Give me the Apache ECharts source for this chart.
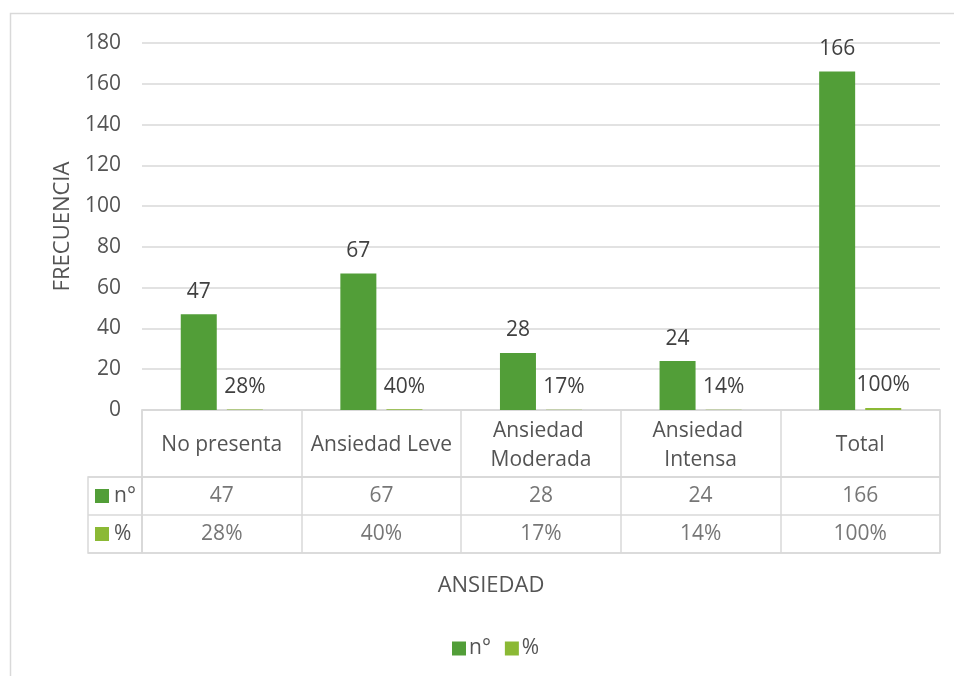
<!DOCTYPE html>
<html><head><meta charset="utf-8">
<script src="https://cdn.jsdelivr.net/npm/echarts@6/dist/echarts.min.js"></script>
<style>html,body{margin:0;padding:0;background:#fff}#c{width:954px;height:676px}</style>
</head><body><div id="c"></div>
<script>
const categories = ['No presenta', 'Ansiedad Leve', 'Ansiedad Moderada', 'Ansiedad Intensa', 'Total'];
const seriesNames = ['n°', '%'];
const countValues = [47, 67, 28, 24, 166];
const pctValues = [0.28, 0.40, 0.17, 0.14, 1.00];
const yTicks = { min: 0, max: 180, interval: 20 };
const colors = ['#529e38', '#8bb935'];

const FONT = 'Open Sans';
const FS = 21;
const TFS = 22;
const TXT = '#545454';
const LBL = '#404040';
const LINE = '#d9d9d9';
const pctFmt = v => Math.round(v * 100) + '%';

const chart = echarts.init(document.getElementById('c'), null, { renderer: 'canvas' });

const cellData = [];
categories.forEach((c, i) => {
  cellData.push({ value: [i, 0], text: String(countValues[i]) });
  cellData.push({ value: [i, 1], text: pctFmt(pctValues[i]) });
});

chart.setOption({
  animation: false,
  textStyle: { fontFamily: FONT },
  color: colors,
  graphic: [{
    type: 'rect', silent: true, z: -10,
    shape: { x: 10.5, y: 13.5, width: 1000, height: 700 },
    style: { fill: null, stroke: LINE, lineWidth: 1.5 }
  }],
  legend: {
    data: seriesNames, left: 447, top: 633, itemWidth: 14, itemHeight: 14, itemGap: 14,
    icon: 'rect', selectedMode: false,
    textStyle: { fontFamily: FONT, fontSize: FS, color: TXT, padding: [0, 0, 0, -2] }
  },
  grid: [
    { left: 142, right: 14, top: 43, bottom: 266, show: false },
    { left: 142, right: 14, top: 410, height: 67, show: true, borderColor: LINE, borderWidth: 1.5 },
    { left: 142, right: 14, top: 477, height: 76, show: true, borderColor: LINE, borderWidth: 1.5 },
    { left: 88, width: 54, top: 477, height: 76, show: true, borderColor: LINE, borderWidth: 1.5 }
  ],
  xAxis: [
    {
      type: 'category', gridIndex: 0, data: categories,
      axisLine: { show: true, lineStyle: { color: LINE, width: 1.5 } },
      axisTick: { show: false }, axisLabel: { show: false },
      name: 'ANSIEDAD', nameLocation: 'middle', nameGap: 165,
      nameTextStyle: { fontFamily: FONT, fontSize: TFS, color: TXT, padding: [0, 100, 0, 0] }
    },
    {
      type: 'category', gridIndex: 1, data: categories,
      axisLine: { show: false }, axisTick: { show: false },
      splitLine: { show: true, lineStyle: { color: LINE, width: 1.5 } },
      axisLabel: {
        inside: true, margin: 31.5, verticalAlign: 'middle', interval: 0,
        fontFamily: FONT, fontSize: FS, color: TXT, lineHeight: 29,
        width: 150, overflow: 'break', align: 'center'
      }
    },
    {
      type: 'category', gridIndex: 2, data: categories,
      axisLine: { show: false }, axisTick: { show: false }, axisLabel: { show: false },
      splitLine: { show: true, lineStyle: { color: LINE, width: 1.5 } }
    },
    {
      type: 'value', gridIndex: 3, min: 0, max: 1, show: false
    }
  ],
  yAxis: [
    {
      type: 'value', gridIndex: 0, min: yTicks.min, max: yTicks.max, interval: yTicks.interval,
      axisLine: { show: false }, axisTick: { show: false },
      splitLine: { lineStyle: { color: LINE, width: 1.5 } },
      axisLabel: { fontFamily: FONT, fontSize: FS, color: TXT, margin: 21 },
      name: 'FRECUENCIA', nameLocation: 'middle', nameGap: 68, nameRotate: 90,
      nameTextStyle: { fontFamily: FONT, fontSize: TFS, color: TXT }
    },
    { type: 'value', gridIndex: 1, min: 0, max: 1, show: false },
    {
      type: 'category', gridIndex: 2, data: seriesNames, inverse: true,
      axisLine: { show: false }, axisTick: { show: false }, axisLabel: { show: false },
      splitLine: { show: true, lineStyle: { color: LINE, width: 1.5 } }
    },
    {
      type: 'category', gridIndex: 3, data: seriesNames, inverse: true,
      axisLine: { show: false }, axisTick: { show: false },
      splitLine: { show: true, lineStyle: { color: LINE, width: 1.5 } },
      axisLabel: {
        inside: true, margin: 7, align: 'left',
        formatter: (v, i) => '{k' + i + '|}{t|' + v + '}',
        rich: {
          k0: { width: 14, height: 14, backgroundColor: colors[0] },
          k1: { width: 14, height: 14, backgroundColor: colors[1] },
          t: { fontFamily: FONT, fontSize: FS, color: TXT, padding: [0, 0, 0, 5] }
        }
      }
    }
  ],
  series: [
    {
      name: seriesNames[0], type: 'bar', xAxisIndex: 0, yAxisIndex: 0,
      data: countValues, barWidth: 36, barGap: '28%',
      label: { show: true, position: 'top', distance: 12, fontFamily: FONT, fontSize: FS, color: LBL }
    },
    {
      name: seriesNames[1], type: 'bar', xAxisIndex: 0, yAxisIndex: 0,
      data: pctValues, barWidth: 36, barGap: '28%',
      label: { show: true, position: 'top', distance: 12, fontFamily: FONT, fontSize: FS, color: LBL, formatter: p => pctFmt(p.value) }
    },
    {
      type: 'scatter', xAxisIndex: 2, yAxisIndex: 2, data: cellData,
      symbol: 'rect', symbolSize: 1, itemStyle: { color: 'rgba(0,0,0,0)' }, silent: true,
      label: { show: true, position: 'inside', fontFamily: FONT, fontSize: FS, color: TXT, formatter: p => p.data.text }
    }
  ]
});
</script></body></html>
